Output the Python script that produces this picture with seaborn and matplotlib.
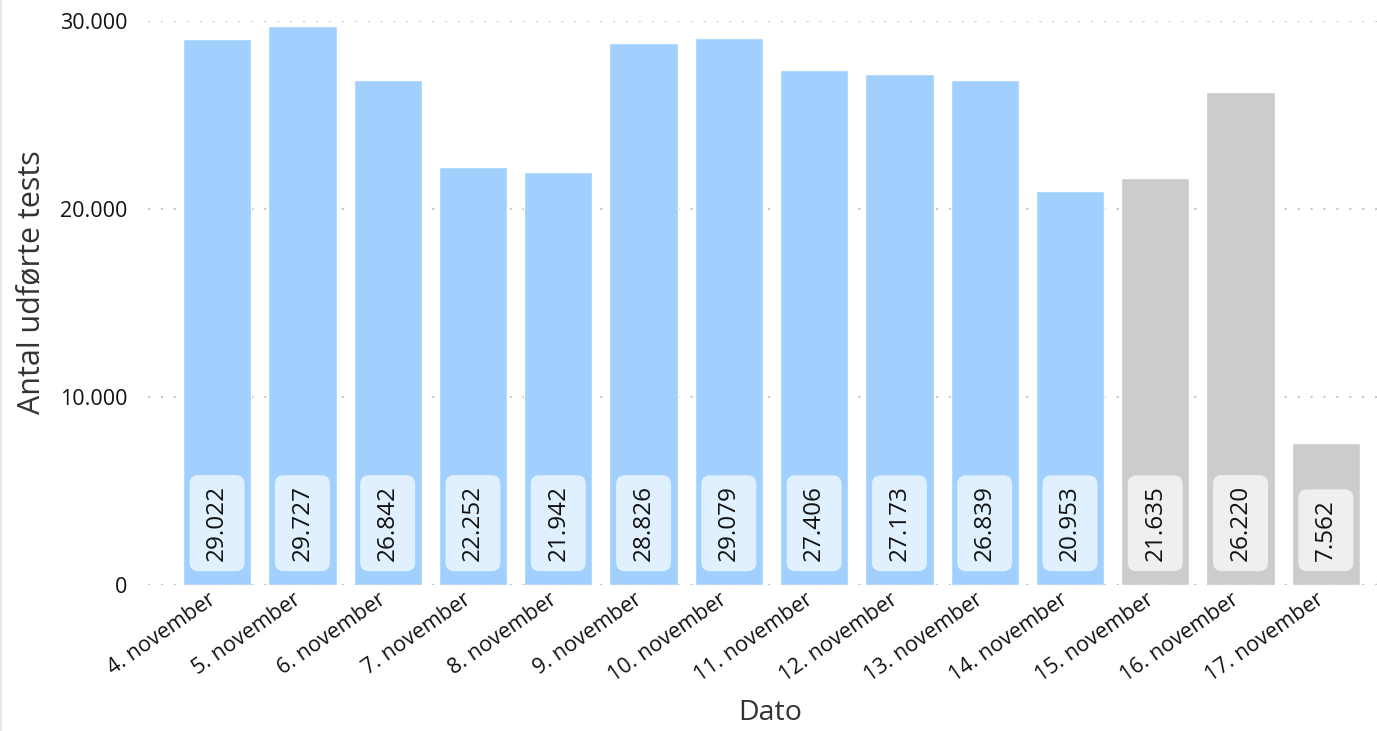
import matplotlib
matplotlib.use("Agg")
import matplotlib.pyplot as plt
import matplotlib.transforms as mtransforms
from matplotlib.patches import FancyBboxPatch
import seaborn as sns
import pandas as pd
from matplotlib.lines import Line2D

# Daily number of tests carried out
dates = ["4. november", "5. november", "6. november", "7. november", "8. november",
         "9. november", "10. november", "11. november", "12. november", "13. november",
         "14. november", "15. november", "16. november", "17. november"]
tests = [29022, 29727, 26842, 22252, 21942, 28826, 29079, 27406, 27173, 26839,
         20953, 21635, 26220, 7562]
status = ["final"] * 11 + ["foreløbig"] * 3

bar_colors = {"final": "#a2d0fe", "foreløbig": "#cccccc"}
box_colors = {"final": "#e0f0ff", "foreløbig": "#efefef"}

df = pd.DataFrame({"Dato": dates, "Antal": tests, "Status": status})

sns.set_theme(style="white")
plt.rcParams["font.family"] = ["Open Sans", "DejaVu Sans"]

fig = plt.figure(figsize=(13.77, 7.31), dpi=100)
ax = fig.add_axes([0.1075, 0.2, 0.8925, 0.7713])

sns.barplot(data=df, x="Dato", y="Antal", hue="Status", palette=bar_colors,
            dodge=False, legend=False, width=0.8, saturation=1, ax=ax, zorder=2)

ax.set_ylim(0, 30000)
ax.set_xlim(-0.81, 13.6)
ax.set_yticks([0, 10000, 20000, 30000])
ax.set_yticklabels([f"{v:,}".replace(",", ".") for v in [0, 10000, 20000, 30000]],
                   fontsize=15.5, color="#111111")
grid_style = dict(linestyle=(0, (1, 5.2)), color="#c8c8c8", linewidth=1.5)
ax.yaxis.grid(True, zorder=0, **grid_style)
ax.set_axisbelow(True)
ax.axhline(0, zorder=3, **grid_style)
for s in ax.spines.values():
    s.set_visible(False)
ax.tick_params(axis="y", length=0, pad=15)
ax.tick_params(axis="x", length=0, pad=3)
shift = mtransforms.ScaledTranslation(-7 / 72, 0, fig.dpi_scale_trans)
for lab in ax.get_xticklabels():
    lab.set_rotation(35)
    lab.set_ha("right")
    lab.set_rotation_mode("anchor")
    lab.set_fontsize(15.5)
    lab.set_color("#111111")
    lab.set_transform(lab.get_transform() + shift)

ax.set_xlabel("Dato", fontsize=20.5, color="#333333")
ax.set_ylabel("Antal udførte tests", fontsize=22, color="#333333")
ax.xaxis.set_label_coords(0.506, -0.203)
ax.yaxis.set_label_coords(-0.083, 0.537)

value_texts = []
for i, (v, st) in enumerate(zip(tests, status)):
    t = ax.annotate(f"{v:,}".replace(",", "."), xy=(i, 0), xytext=(0, 17),
                    textcoords="offset points", rotation=90, ha="center", va="bottom",
                    fontsize=17.5, color="#111111", zorder=4)
    value_texts.append((t, st))

# rounded label boxes sized around each rendered value text
fig.canvas.draw()
renderer = fig.canvas.get_renderer()
box_w, pad_len = 55, 10
for t, st in value_texts:
    bb = t.get_window_extent(renderer)
    cx = 0.5 * (bb.x0 + bb.x1)
    box = FancyBboxPatch((cx - box_w / 2, bb.y0 - pad_len), box_w, bb.height + 2 * pad_len,
                         boxstyle="round,pad=0,rounding_size=9",
                         transform=mtransforms.IdentityTransform(),
                         fc=box_colors[st], ec="none", zorder=3.5, clip_on=False)
    ax.add_artist(box)

# thin frame line on the left edge of the figure
fig.add_artist(Line2D([0.0008, 0.0008], [0, 1], transform=fig.transFigure,
                      color="#e6e6e6", linewidth=1.5))

fig.savefig("out.png", dpi=100, facecolor="white")
